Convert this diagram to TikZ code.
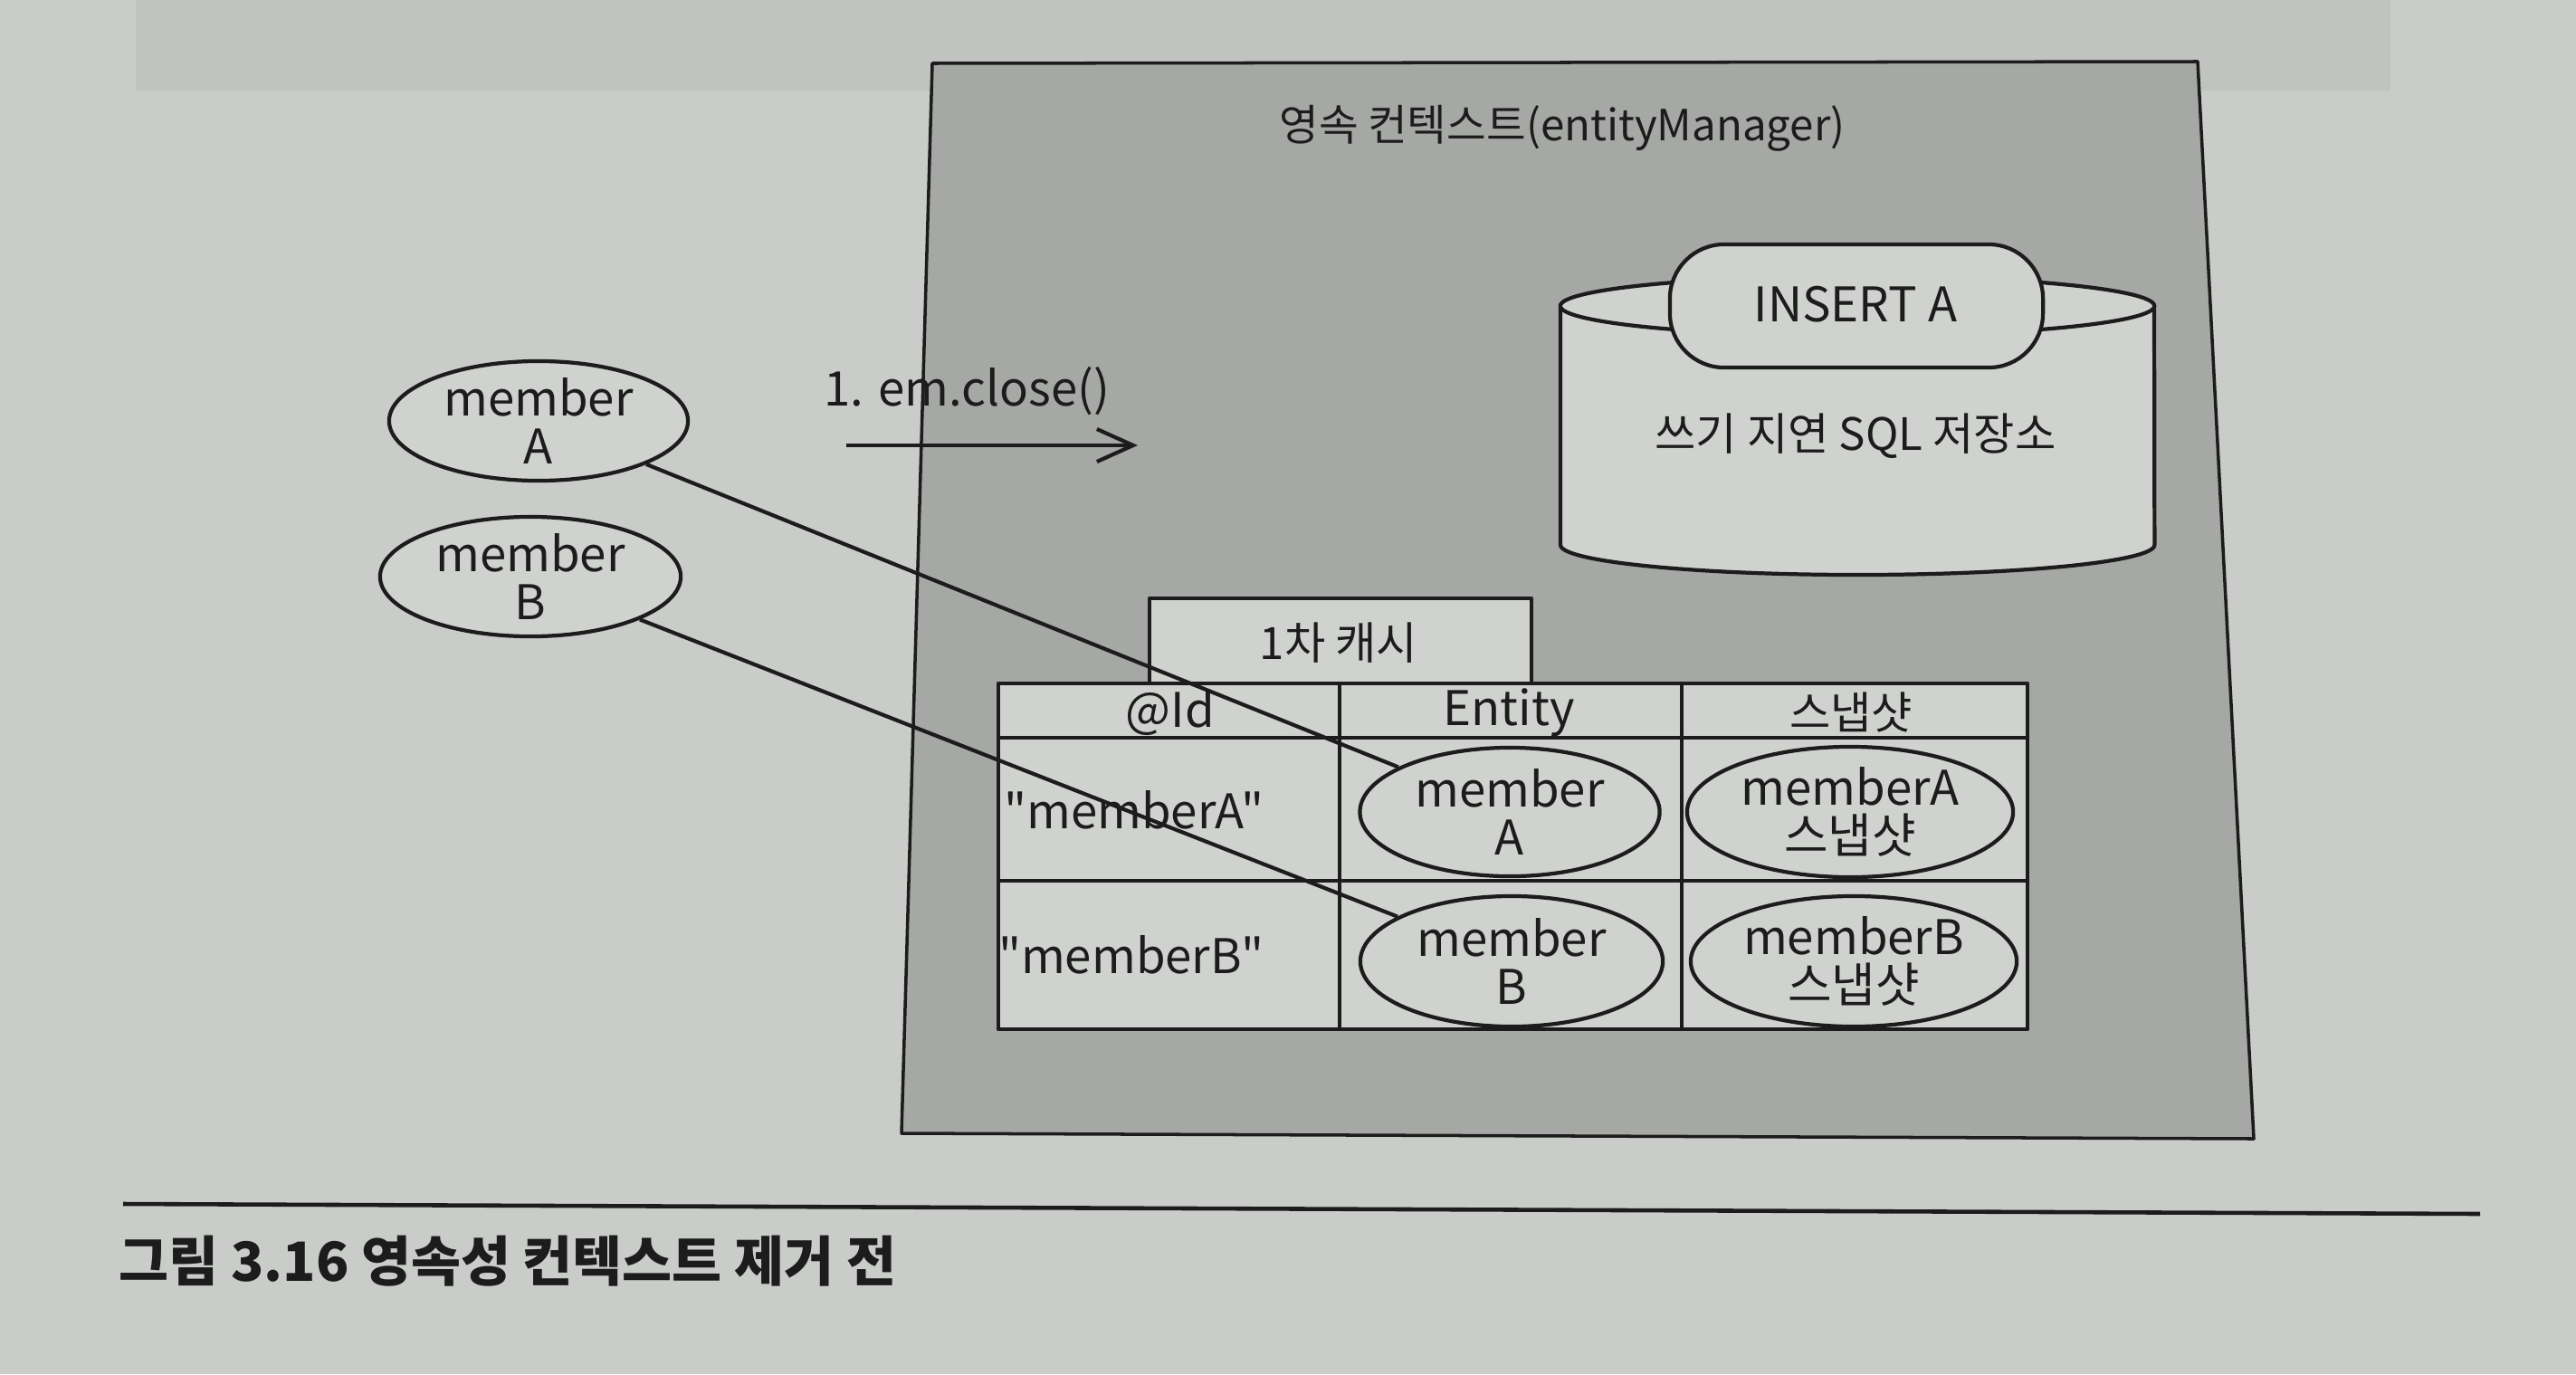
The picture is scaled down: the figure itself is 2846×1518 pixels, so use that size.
\documentclass[tikz,border=0pt]{standalone}
\usepackage{fontspec}
\newfontfamily\krfont{Noto Sans CJK KR}
\usetikzlibrary{shapes.geometric,arrows.meta}
\definecolor{paper}{RGB}{201,204,201}
\definecolor{band}{RGB}{192,195,192}
\definecolor{boxgray}{RGB}{166,168,165}
\definecolor{cell}{RGB}{208,210,207}
\definecolor{ink}{RGB}{28,28,28}
\begin{document}
\begin{tikzpicture}[x=0.01cm,y=-0.01cm,line join=round,
  lab/.style={font=\krfont\fontsize{15}{15}\selectfont,text=ink,inner sep=0pt,align=center},
  klab/.style={font=\krfont\fontsize{14}{15}\selectfont,text=ink,inner sep=0pt,align=center},
  oval/.style={ellipse,draw=ink,line width=1.2pt,fill=cell,inner sep=0pt},
  frame/.style={draw=ink,line width=1.2pt},
  link/.style={draw=ink,line width=1.2pt}]
\useasboundingbox (0,0) rectangle (2846,1518);
\fill[paper] (0,0) rectangle (2846,1518);
\fill[band] (150,0) rectangle (2641,100);
% main box
\coordinate (bTL) at (1030,70);
\coordinate (bTR) at (2428,68);
\coordinate (bBR) at (2490,1258);
\coordinate (bBL) at (996,1252);
\filldraw[fill=boxgray,draw=ink,line width=1pt] (bTL) -- (bTR) -- (bBR) -- (bBL) -- cycle;
\node[klab,font=\krfont\fontsize{13.5}{15}\selectfont] (title) at (1726,142) {영속 컨텍스트(entityManager)};
% cylinder
\filldraw[fill=cell,frame] (1724,338) -- (1724,602) arc[start angle=180,end angle=360,x radius=3.28cm,y radius=0.33cm] -- (2380,338);
\filldraw[fill=cell,frame] (2052,338) ellipse [x radius=3.28cm,y radius=0.33cm];
\node[rectangle,rounded corners=0.6cm,draw=ink,line width=1.2pt,fill=cell,minimum width=4.12cm,minimum height=1.36cm] (pill) at (2051,338) {};
\node[lab] (ins) at (2050,336) {INSERT A};
\node[klab] (sql) at (2050,482) {쓰기 지연 SQL 저장소};
% tab
\node[rectangle,draw=ink,line width=1.2pt,fill=cell,minimum width=4.22cm,minimum height=0.94cm] (tab) at (1481,708) {};
\node[klab] (tabl) at (1479,710) {1차 캐시};
% table
\filldraw[fill=cell,frame] (1103,755) rectangle (2240,1137);
\draw[frame] (1103,815) -- (2240,815) (1103,973) -- (2240,973)
  (1480,755) -- (1480,1137) (1858,755) -- (1858,1137);
\node[lab] (hid) at (1293,787) {@Id};
\node[lab] (hent) at (1667,787) {Entity};
\node[klab] (hsnap) at (2045,787) {스냅샷};
\node[lab] (idA) at (1253,895) {"memberA"};
\node[lab] (idB) at (1250,1055) {"memberB"};
\node[oval,minimum width=3.31cm,minimum height=1.42cm] (eA) at (1668,897) {};
\node[lab] (eAt) at (1668,897) {member\\A};
\node[oval,minimum width=3.6cm,minimum height=1.44cm] (sA) at (2044,897) {};
\node[lab] (sAt) at (2044,897) {memberA\\스냅샷};
\node[oval,minimum width=3.34cm,minimum height=1.44cm] (eB) at (1670,1062) {};
\node[lab] (eBt) at (1670,1062) {member\\B};
\node[oval,minimum width=3.6cm,minimum height=1.44cm] (sB) at (2048,1062) {};
\node[lab] (sBt) at (2048,1062) {memberB\\스냅샷};
% outside members
\node[oval,minimum width=3.3cm,minimum height=1.32cm] (mA) at (595,465) {};
\node[lab] (mAt) at (595,465) {member\\A};
\node[oval,minimum width=3.32cm,minimum height=1.32cm] (mB) at (586,637) {};
\node[lab] (mBt) at (586,637) {member\\B};
\draw[link] (mA) -- (eA);
\draw[link] (mB) -- (eB);
% arrow
\coordinate (arS) at (935,492);
\coordinate (arE) at (1257,492);
\draw[link,-{Straight Barb[length=0.4cm,width=0.36cm]}] (arS) -- (arE);
\node[lab,anchor=west] (close) at (910,432) {1. em.close()};
% caption
\coordinate (rl) at (136,1330);
\coordinate (rr) at (2740,1341);
\draw[ink,line width=1.3pt] (rl) -- (rr);
\node[inner sep=0pt,anchor=west,text=ink,font=\krfont\fontsize{17}{19}\selectfont\bfseries] (cap) at (131,1393) {그림 3.16 영속성 컨텍스트 제거 전};
\end{tikzpicture}
\end{document}
